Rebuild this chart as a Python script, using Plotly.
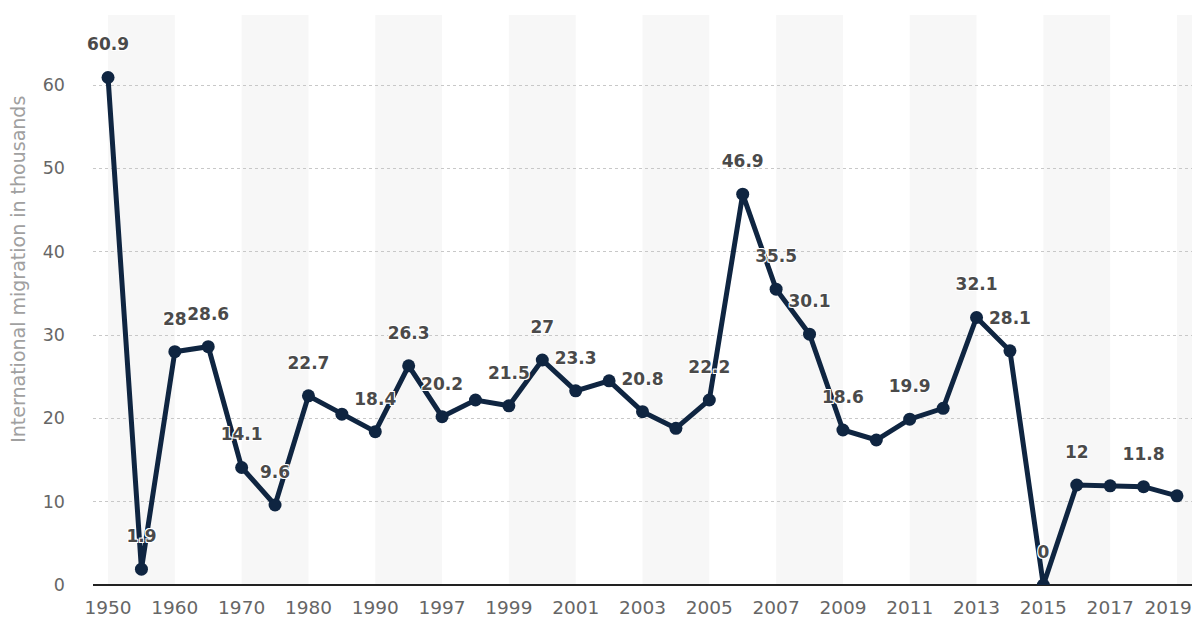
import plotly.graph_objects as go

years = ["1950", "1955", "1960", "1965", "1970", "1975", "1980", "1985", "1990", "1995",
         "1997", "1998", "1999", "2000", "2001", "2002", "2003", "2004", "2005", "2006",
         "2007", "2008", "2009", "2010", "2011", "2012", "2013", "2014", "2015", "2016",
         "2017", "2018", "2019"]
migration = [60.9, 1.9, 28, 28.6, 14.1, 9.6, 22.7, 20.5, 18.4, 26.3,
             20.2, 22.2, 21.5, 27, 23.3, 24.5, 20.8, 18.8, 22.2, 46.9,
             35.5, 30.1, 18.6, 17.4, 19.9, 21.2, 32.1, 28.1, 0, 12,
             11.9, 11.8, 10.7]
shown_labels = ["60.9", "1.9", "28", "28.6", "14.1", "9.6", "22.7", "", "18.4", "26.3",
                "20.2", "", "21.5", "27", "23.3", "", "20.8", "", "22.2", "46.9",
                "35.5", "30.1", "18.6", "", "19.9", "", "32.1", "28.1", "0", "12",
                "", "11.8", ""]
tick_years = years[::2]
y_ticks = [0, 10, 20, 30, 40, 50, 60]

LINE = "#0f2541"
FONT = "DejaVu Sans"

# last tick label nudged left (transparent padding) so it fits in the page, as in the original
tick_text = tick_years[:-1] + [tick_years[-1] + "<span style='color:rgba(0,0,0,0)'>0.</span>"]

fig = go.Figure()
fig.add_trace(go.Scatter(
    x=years, y=migration, mode="lines+markers",
    line=dict(color=LINE, width=5),
    marker=dict(color=LINE, size=13),
    hoverinfo="x+y", showlegend=False,
))
# value labels (invisible large markers push the text above the points)
fig.add_trace(go.Scatter(
    x=years, y=migration, mode="markers+text",
    text=shown_labels, textposition="top center",
    marker=dict(size=35, opacity=0, color="white"),
    textfont=dict(family=FONT, size=17, color="#4a4a4a", weight="bold",
                  shadow="-1px -1px 0 #fff, 1px -1px 0 #fff, -1px 1px 0 #fff, 1px 1px 0 #fff"),
    hoverinfo="skip", showlegend=False, cliponaxis=False,
))

shapes = []
n = len(years)
for i in range(0, n, 4):
    shapes.append(dict(type="rect", xref="x", yref="paper",
                       x0=i, x1=min(i + 2, n - 1 + 0.6), y0=0, y1=1,
                       fillcolor="#f7f7f7", line=dict(width=0), layer="below"))

fig.update_layout(
    width=1192, height=619,
    margin=dict(l=93, r=0, t=15, b=34, autoexpand=False),
    paper_bgcolor="white", plot_bgcolor="white",
    shapes=shapes,
    font=dict(family=FONT, color="#666"),
    xaxis=dict(type="category", range=[-0.45, n - 0.55], automargin=False,
               tickmode="array", tickvals=tick_years, ticktext=tick_text,
               showgrid=False, zeroline=False, showline=False, ticks="",
               ticklabelstandoff=9,
               tickfont=dict(family=FONT, size=18.5, color="#666")),
    yaxis=dict(range=[0, 68.4], tickvals=y_ticks, showgrid=True, automargin=False,
               gridcolor="#c8c8c8", griddash="dot", gridwidth=1,
               zeroline=True, zerolinecolor="#222", zerolinewidth=2,
               showline=False, ticks="", ticklabelstandoff=27,
               tickfont=dict(family=FONT, size=17.5, color="#666")),
)
fig.add_annotation(text="International migration in thousands", textangle=-90,
                   xref="paper", yref="paper", x=-75/1099, y=0.553,
                   xanchor="center", yanchor="middle", showarrow=False,
                   font=dict(family=FONT, size=19, color="#a0a0a0"))

fig.write_html("out.html", post_script="document.body.style.margin='0';",
               config={"displayModeBar": False})
